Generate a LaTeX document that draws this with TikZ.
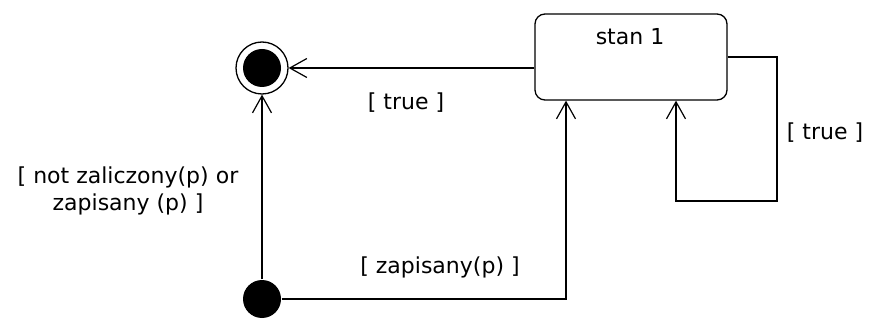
\documentclass[tikz,border=0pt]{standalone}
\usepackage{fontspec}
\setmainfont{DejaVu Sans}
\usetikzlibrary{arrows.meta}
\begin{document}
\begin{tikzpicture}[x=1pt,y=-1pt,
  line width=1.3pt,
  trans/.style={draw, -{Straight Barb[length=17pt,width=19pt,line width=1.2pt]}},
  lbl/.style={font=\fontsize{22}{27}\selectfont, align=center, inner sep=0pt},
  statebox/.style={draw, rounded corners=10pt, minimum width=192pt, minimum height=86pt, inner sep=0pt},
  dot/.style={circle, fill=black, minimum size=38pt, inner sep=0pt},
  ring/.style={circle, draw, minimum size=52pt, inner sep=0pt}]
\useasboundingbox (0,0) rectangle (877,320);

% states
\node[statebox] (s1) at (631,57) {};
\node[lbl] (s1name) at (630,37) {stan 1};
\node[ring] (final) at (262,68) {};
\node[dot] (finaldot) at (final.center) {};
\node[dot] (init) at (262,299) {};

% bend points of the transitions
\coordinate (loopR) at (777,201);
\coordinate (loopin) at (676,0);
\coordinate (zin) at (566,0);

% transitions
\draw[trans] (s1.west |- final) -- (final.east);
\draw[trans] (s1.east) -| (loopR) -| (s1.south -| loopin);
\draw[trans] (init) -| (s1.south -| zin);
\draw[trans] (init) -- (final);

% guards
\node[lbl] (g1) at (406,103) {[ true ]};
\node[lbl] (g2) at (825,133) {[ true ]};
\node[lbl] (g3) at (128,191) {[ not zaliczony(p) or\\ zapisany (p) ]};
\node[lbl] (g4) at (440,267) {[ zapisany(p) ]};
\end{tikzpicture}
\end{document}
